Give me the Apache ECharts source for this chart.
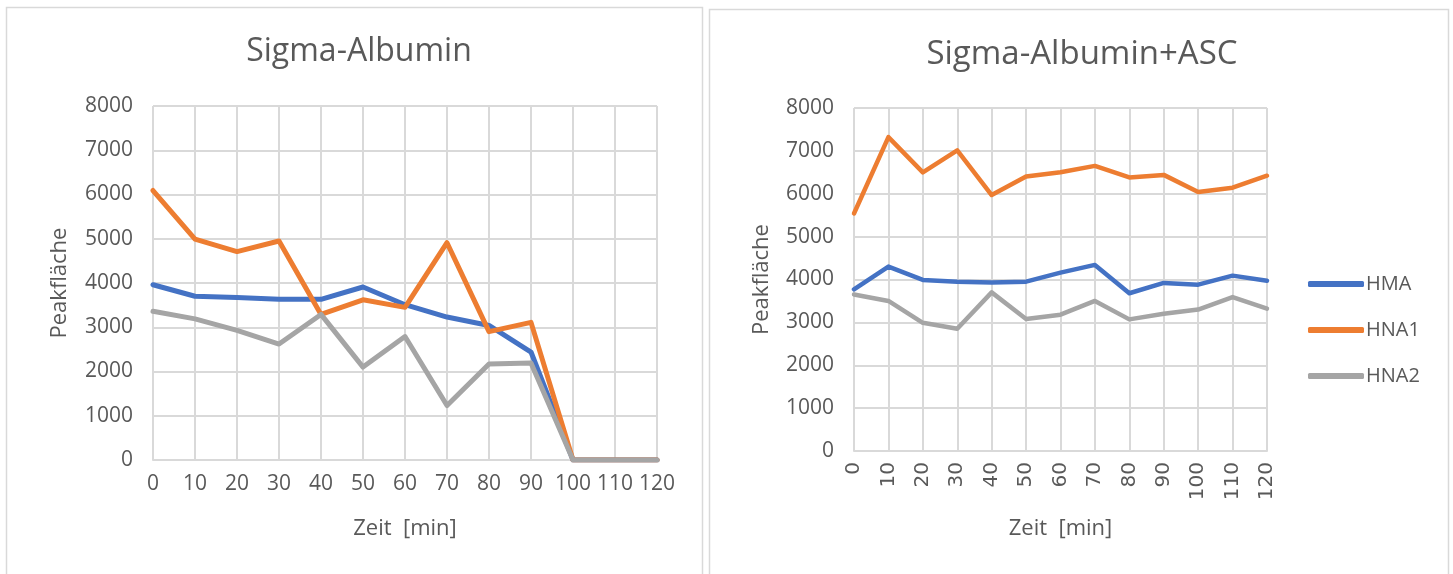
<!DOCTYPE html>
<html>
<head>
<meta charset="utf-8">
<script src="https://cdn.jsdelivr.net/npm/echarts@6/dist/echarts.min.js"></script>
<style>
  html, body { margin: 0; padding: 0; background: #ffffff; }
  #chart { width: 1453px; height: 574px; }
</style>
</head>
<body>
<div id="chart"></div>
<script>
// Zeitpunkte (min)
const zeit = ['0', '10', '20', '30', '40', '50', '60', '70', '80', '90', '100', '110', '120'];
const yTicks = [0, 1000, 2000, 3000, 4000, 5000, 6000, 7000, 8000];

// Sigma-Albumin
const albHMA  = [3960, 3700, 3670, 3630, 3630, 3910, 3510, 3230, 3040, 2440, 0, 0, 0];
const albHNA1 = [6090, 4990, 4710, 4950, 3290, 3620, 3450, 4910, 2900, 3110, 0, 0, 0];
const albHNA2 = [3360, 3190, 2930, 2620, 3290, 2100, 2790, 1230, 2170, 2190, 0, 0, 0];

// Sigma-Albumin+ASC
const ascHMA  = [3770, 4300, 3990, 3950, 3930, 3950, 4160, 4340, 3680, 3920, 3880, 4090, 3970];
const ascHNA1 = [5540, 7320, 6500, 7010, 5970, 6400, 6500, 6650, 6380, 6440, 6040, 6140, 6420];
const ascHNA2 = [3650, 3500, 2990, 2850, 3700, 3080, 3180, 3500, 3070, 3200, 3300, 3590, 3320];

const seriesNames = ['HMA', 'HNA1', 'HNA2'];
const colors = ['#4472C4', '#ED7D31', '#A5A5A5'];

const textColor = '#595959';
const gridColor = '#d9d9d9';
const font = '"Open Sans", "Noto Sans", sans-serif';

function xAxisFor(gridIndex, rotated) {
  return {
    type: 'category',
    gridIndex: gridIndex,
    data: zeit,
    boundaryGap: false,
    name: 'Zeit  [min]',
    nameLocation: 'middle',
    nameGap: rotated ? 67 : 58,
    nameTextStyle: { color: textColor, fontSize: 22, fontFamily: font },
    axisLine: { show: true, lineStyle: { color: gridColor, width: 2 } },
    axisTick: { show: false },
    axisLabel: rotated
      ? { color: textColor, fontSize: 20, fontFamily: '"DejaVu Sans", sans-serif', rotate: 90, margin: 11, interval: 0 }
      : { color: textColor, fontSize: 21, fontFamily: font, margin: 14, interval: 0 },
    splitLine: { show: true, lineStyle: { color: gridColor, width: 2 } }
  };
}

function yAxisFor(gridIndex, gap) {
  return {
    type: 'value',
    gridIndex: gridIndex,
    min: yTicks[0],
    max: yTicks[yTicks.length - 1],
    interval: yTicks[1] - yTicks[0],
    name: 'Peakfläche',
    nameLocation: 'middle',
    nameGap: gap,
    nameTextStyle: { color: textColor, fontSize: 22, fontFamily: font },
    axisLine: { show: false },
    axisTick: { show: false },
    axisLabel: { color: textColor, fontSize: 21, fontFamily: font, margin: 20,
                 formatter: function (v) { return String(v); } },
    splitLine: { show: true, lineStyle: { color: gridColor, width: 2 } }
  };
}

function lineSeries(name, data, color, axisIndex, width) {
  return {
    name: name,
    type: 'line',
    xAxisIndex: axisIndex,
    yAxisIndex: axisIndex,
    data: data,
    symbol: 'none',
    smooth: false,
    lineStyle: { color: color, width: width, join: 'round', cap: 'round' },
    itemStyle: { color: color },
    emphasis: { disabled: true }
  };
}

const chart = echarts.init(document.getElementById('chart'), null, { renderer: 'canvas' });

chart.setOption({
  backgroundColor: '#ffffff',
  animation: false,
  graphic: [
    { type: 'rect', shape: { x: 6.5, y: 7.5, width: 696, height: 580 },
      style: { fill: 'none', stroke: gridColor, lineWidth: 1.5 }, silent: true, z: -10 },
    { type: 'rect', shape: { x: 709.5, y: 9.5, width: 739, height: 580 },
      style: { fill: 'none', stroke: gridColor, lineWidth: 1.5 }, silent: true, z: -10 }
  ],
  title: [
    { text: 'Sigma-Albumin', left: 354, top: 31, textAlign: 'center',
      textStyle: { color: textColor, fontSize: 32, fontWeight: 'normal', fontFamily: font } },
    { text: 'Sigma-Albumin+ASC', left: 1077, top: 33, textAlign: 'center',
      textStyle: { color: textColor, fontSize: 33, fontWeight: 'normal', fontFamily: font } }
  ],
  legend: {
    orient: 'vertical',
    left: 1303,
    top: 269,
    data: seriesNames,
    icon: 'roundRect',
    itemWidth: 56,
    itemHeight: 6,
    itemGap: 26,
    textStyle: { color: textColor, fontSize: 20, fontFamily: font, padding: [0, 0, 0, -3] },
    selectedMode: false
  },
  grid: [
    { left: 153, top: 106, width: 504, height: 354 },
    { left: 854, top: 108, width: 413, height: 343 }
  ],
  xAxis: [xAxisFor(0, false), xAxisFor(1, true)],
  yAxis: [yAxisFor(0, 82), yAxisFor(1, 81)],
  series: [
    lineSeries(seriesNames[0], albHMA, colors[0], 0, 5),
    lineSeries(seriesNames[1], albHNA1, colors[1], 0, 5),
    lineSeries(seriesNames[2], albHNA2, colors[2], 0, 5),
    lineSeries(seriesNames[0], ascHMA, colors[0], 1, 4.5),
    lineSeries(seriesNames[1], ascHNA1, colors[1], 1, 4.5),
    lineSeries(seriesNames[2], ascHNA2, colors[2], 1, 4.5)
  ]
});
</script>
</body>
</html>
